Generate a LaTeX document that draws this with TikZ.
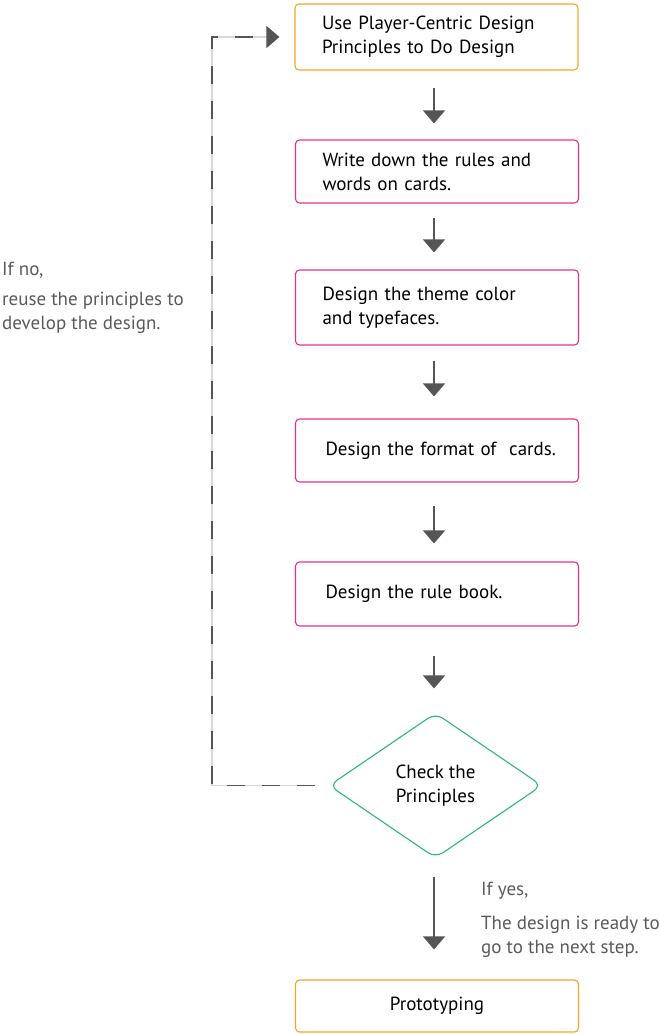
\documentclass[tikz,border=0pt]{standalone}
\usepackage{fontspec}
\setmainfont{PT Sans}
\usetikzlibrary{shapes.geometric,arrows.meta}
\definecolor{boxorange}{HTML}{F5A623}
\definecolor{boxpink}{HTML}{E8308A}
\definecolor{boxgreen}{HTML}{2DB67A}
\definecolor{arrowgray}{HTML}{555555}
\definecolor{notegray}{HTML}{5A5A5A}
\definecolor{gapgray}{HTML}{D8D8D8}
\tikzset{
  x=1pt, y=-1pt,
  every node/.style={font=\fontsize{19}{24}\selectfont, text=black},
  stepbox/.style={draw, line width=1.1pt, rounded corners=4pt, minimum width=283pt,
    text width=229pt, align=left, inner xsep=27pt, inner ysep=0pt},
  orangebox/.style={stepbox, draw=boxorange},
  pinkbox/.style={stepbox, draw=boxpink},
  checkbox/.style={diamond, draw=boxgreen, line width=1.1pt, rounded corners=9pt,
    minimum width=213pt, minimum height=145pt, inner sep=0pt, align=center},
  flow/.style={draw=arrowgray, line width=1.3pt,
    -{Triangle[width=22pt,length=13pt]}},
  note/.style={text=notegray, align=left, anchor=west, inner sep=0pt,
    font=\fontsize{19}{24}\selectfont}
}
\begin{document}
\begin{tikzpicture}
\useasboundingbox (0,0) rectangle (659,1034);

% process steps
\node[orangebox, minimum height=66pt] (use) at (436.5,37)
  {Use Player-Centric Design\\Principles to Do Design};
\node[pinkbox, minimum height=63pt] (write) at (437,171.5)
  {Write down the rules and\\words on cards.};
\node[pinkbox, minimum height=75pt] (theme) at (437,307.5)
  {Design the theme color\\and typefaces.};
\node[pinkbox, minimum height=63pt] (format) at (437,450.5)
  {\makebox[229pt][l]{\hspace{3pt}Design the format of~ cards.}};
\node[pinkbox, minimum height=64pt] (rulebook) at (437,594)
  {\hspace{3pt}Design the rule book.};
\node[checkbox] (check) at (435.5,785.5) {Check the\\Principles};
\node[orangebox, minimum height=52pt, align=center] (proto) at (437,1006)
  {Prototyping};

% forward arrows
\draw[flow, shorten <=17pt, shorten >=16pt] (use.south -| 434,0) -- (write.north -| 434,0);
\draw[flow, shorten <=14pt, shorten >=17pt] (write.south -| 434,0) -- (theme.north -| 434,0);
\draw[flow, shorten <=15pt, shorten >=22pt] (theme.south -| 434,0) -- (format.north -| 434,0);
\draw[flow, shorten <=23pt, shorten >=18pt] (format.south -| 434,0) -- (rulebook.north -| 434,0);
\draw[flow, shorten <=29pt, shorten >=24pt] (rulebook.south -| 434,0) -- (check.north -| 434,0);
\draw[flow, shorten <=18pt, shorten >=30pt] (check.south -| 434,0) -- (proto.north -| 434,0);

% loop back when the check fails
\coordinate (loopstart) at ([xshift=-13pt]check.west);
\coordinate (loopcorner) at (212,0);
\draw[gapgray, line width=1.2pt]
  (loopstart) -- (loopstart -| loopcorner) -- (use.west -| loopcorner) -- ([xshift=-27pt]use.west);
\draw[arrowgray, line width=1.5pt, dash pattern=on 18pt off 17pt,
    -{Triangle[width=22pt,length=13pt]}]
  (loopstart) -- (loopstart -| loopcorner) -- (use.west -| loopcorner) -- ([xshift=-15pt]use.west);

% decision notes
\node[note] (nonote) at (2,270) {If no,};
\node[note] (noreason) at (2,313) {reuse the principles to\\develop the design.};
\node[note] (yesnote) at (481,891) {If yes,};
\node[note] (yesreason) at (481,937) {The design is ready to\\go to the next step.};
\end{tikzpicture}
\end{document}
